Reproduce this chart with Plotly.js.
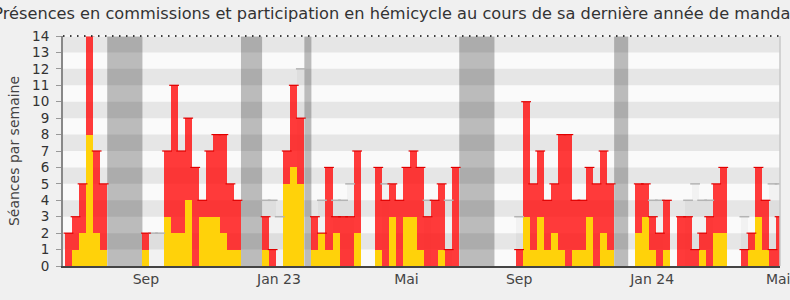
<!DOCTYPE html>
<html><head><meta charset="utf-8">
<script src="https://cdn.plot.ly/plotly-3.0.1.min.js"></script>
<style>html,body{margin:0;padding:0;background:#f0f0f0;}#chart{width:790px;height:300px;}</style>
</head><body><div id="chart"></div>
<script>
// Weekly values (week index 0 = first week shown)
const presences = [2,3,5,14,7,5,0,0,0,0,0,2,0,0,7,11,7,9,6,4,7,8,8,5,4,0,0,0,3,1,0,7,11,9,0,3,2,6,3,3,3,7,0,0,6,4,5,4,6,7,6,3,4,5,1,6,0,0,0,0,0,0,0,0,1,10,5,7,4,5,8,8,4,4,6,5,7,5,0,0,0,5,5,3,2,4,0,3,3,1,2,3,5,6,0,0,1,2,6,4,1,3];
const hemicycle = [0,1,2,8,2,1,0,0,0,0,0,1,0,0,3,2,2,4,0,3,3,3,2,1,1,0,0,0,1,0,0,5,6,5,0,1,2,1,2,0,0,2,0,0,1,0,3,0,3,3,1,0,0,1,0,0,0,0,0,0,0,0,0,0,0,3,1,3,1,2,1,0,1,1,3,0,2,1,0,0,0,2,3,1,0,1,0,0,0,0,1,0,2,2,0,0,0,1,3,1,0,0];
const mediane = [null,null,null,null,null,null,null,null,null,null,null,null,2,2,null,null,null,null,null,null,null,null,null,null,null,null,null,null,4,4,3,null,null,12,null,null,4,null,4,4,5,null,null,null,null,5,null,null,null,null,null,4,null,null,4,null,null,null,null,null,null,null,null,null,3,null,null,null,null,null,null,null,null,null,null,null,null,null,null,null,null,null,null,4,4,null,null,null,4,5,4,4,null,null,null,null,3,null,null,null,5,5];
const vacances = [[6,10],[25,27],[34,34],[56,60],[78,79]];
const tickPos = [10.99,29.9,48.0,64.0,82.9,100.8];
const tickText = ['Sep','Jan 23','Mai','Sep','Jan 24','Mai'];
const weeks = presences.map((_, i) => i);

const FONT = 'DejaVu Sans, Verdana, sans-serif';
const shapes = [];
for (let k = 1; k < 14; k += 2) {
  shapes.push({type:'rect', xref:'paper', yref:'y', x0:0, x1:1, y0:k, y1:k+1, fillcolor:'#e6e6e6', line:{width:0}, layer:'below'});
}
vacances.forEach(v => shapes.push({type:'rect', xref:'x', yref:'paper', x0:v[0]-0.5, x1:v[1]+0.5, y0:0, y1:1, fillcolor:'rgba(0,0,0,0.25)', line:{width:0}, layer:'below'}));
shapes.push({type:'line', xref:'paper', yref:'paper', x0:0, x1:1, y0:1, y1:1, line:{color:'#ffffff', width:1}});
shapes.push({type:'line', xref:'paper', yref:'paper', x0:0, x1:1, y0:1, y1:1, line:{color:'#000000', width:1.5, dash:'1.5px,5.5px'}});
shapes.push({type:'line', xref:'paper', yref:'paper', x0:1, x1:1, y0:0, y1:1, line:{color:'#c8c8c8', width:1.5}});

const traces = [
  {type:'bar', x:weeks, y:mediane, marker:{color:'rgba(0,0,0,0.03)', line:{width:0}}, hoverinfo:'skip'},
  {type:'scatter', mode:'markers', x:weeks, y:mediane, marker:{symbol:'line-ew-open', size:7, color:'#b4b4b4', line:{color:'#b4b4b4', width:1.5}}, hoverinfo:'skip'},
  {type:'bar', x:weeks, y:presences, marker:{color:'rgba(255,20,20,0.84)', line:{width:0}}},
  {type:'scatter', mode:'markers', x:weeks, y:presences.map(v => v > 0 ? v : null), marker:{symbol:'line-ew-open', size:7, color:'#e00000', line:{color:'#e00000', width:1.2}}, hoverinfo:'skip'},
  {type:'bar', x:weeks, y:hemicycle, marker:{color:'#ffd20a', line:{width:0}}}
];

const layout = {
  width:790, height:300,
  margin:{l:63, r:10, t:36, b:34},
  paper_bgcolor:'#f0f0f0', plot_bgcolor:'#fafafa',
  barmode:'overlay', bargap:0, showlegend:false,
  font:{family:FONT, color:'#333'},
  title:{text:'Présences en commissions et participation en hémicycle au cours de sa dernière année de mandat', font:{family:FONT, size:16.2, color:'#333'}, x:0.5, xanchor:'center', y:0.955, yanchor:'middle'},
  xaxis:{range:[-0.78,101.06], tickvals:tickPos, ticktext:tickText, ticks:'', showgrid:false, zeroline:false, showline:true, linecolor:'#444', linewidth:1.5, tickfont:{size:14, color:'#444'}, ticklabeloverflow:'allow', fixedrange:true},
  yaxis:{range:[0,14], dtick:1, tick0:0, ticks:'outside', ticklen:5, tickcolor:'#999', showgrid:false, zeroline:false, showline:true, linecolor:'#888', linewidth:2, tickfont:{size:13.5, color:'#333'}, ticklabelstandoff:4,
         title:{text:'Séances par semaine', font:{size:14, color:'#444'}, standoff:9}, fixedrange:true},
  shapes:shapes
};
Plotly.newPlot('chart', traces, layout, {displayModeBar:false, staticPlot:true});
</script></body></html>
